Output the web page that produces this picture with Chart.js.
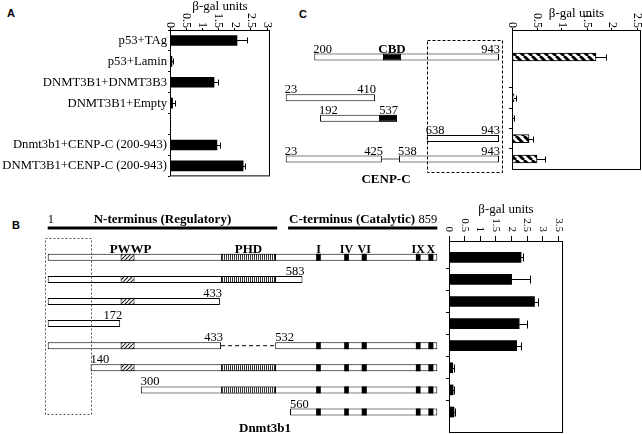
<!DOCTYPE html>
<html>
<head>
<meta charset="utf-8">
<script src="https://cdn.jsdelivr.net/npm/chart.js@4.4.1/dist/chart.umd.min.js"></script>
<style>
    body { margin: 0; background: #fff; }
    #page { position: relative; width: 642px; height: 434px; overflow: hidden; background: #fff; }
    #page canvas { position: absolute; }
    .panel { position: absolute; font: bold 11px 'Liberation Sans', Arial, sans-serif; color: #000; }
</style>
</head>
<body>
<div id="page">
    <div class="panel" style="left:7px;top:7px">A</div>
    <div class="panel" style="left:299px;top:8px">C</div>
    <div class="panel" style="left:12px;top:219px">B</div>
    <canvas id="chartA" width="280" height="185" style="left:0;top:0"></canvas>
    <canvas id="diagC" width="240" height="175" style="left:270px;top:20px"></canvas>
    <canvas id="chartC" width="142" height="171" style="left:500px;top:0"></canvas>
    <canvas id="diagB" width="445" height="229" style="left:0;top:205px"></canvas>
    <canvas id="chartB" width="135" height="234" style="left:440px;top:200px"></canvas>
</div>
<script>
// Panel A - two-hybrid controls
const aLabels = ['p53+TAg', 'p53+Lamin', 'DNMT3B1+DNMT3B3', 'DNMT3B1+Empty', '', 'Dnmt3b1+CENP-C (200-943)', 'DNMT3B1+CENP-C (200-943)'];
const aValues = [2.07, 0.06, 1.36, 0.08, null, 1.45, 2.26];
const aErrors = [0.31, 0.02, 0.12, 0.07, null, 0.10, 0.05];
const aTicks = [0, 0.5, 1, 1.5, 2, 2.5, 3];

// Panel C - CENP-C fragments, drawn positions (0 = residue 23, 100 = residue 943)
const cSegRow = [0, 2, 3, 4, 5, 5];
const cSegFrom = [13.4, 0, 16.1, 66.1, 0, 53.1];
const cSegTo = [100, 41.9, 52.2, 100, 45.1, 100];
const cFromText = ['200', '23', '192', '638', '23', '538'];
const cToText = ['943', '410', '537', '943', '425', '943'];
const cCbdRow = [0, 3];
const cCbdFrom = [45.6, 43.7];
const cCbdTo = [54.1, 52.2];
const cLink = [45.1, 53.1];
const cRows = [0, 2, 3, 4, 5];
const cValues = [1.68, 0.04, 0.02, 0.34, 0.50];
const cErrors = [0.20, 0.03, 0.01, 0.08, 0.16];
const cTicks = [0, 0.5, 1, 1.5, 2, 2.5];

// Panel B - Dnmt3b1 deletions, drawn positions (0 = residue 1, 100 = residue 859)
const bSegRow = [0, 1, 2, 3, 4, 4, 5, 6, 7];
const bSegFrom = [0, 0, 0, 0, 0, 58.4, 11.0, 23.9, 62.2];
const bSegTo = [100, 65.4, 44.2, 18.6, 44.5, 100, 100, 100, 100];
const bFromText = ['', '', '', '', '', '532', '140', '300', '560'];
const bToText = ['', '583', '433', '172', '433', '', '', '', ''];
const bGap = [44.5, 58.4];
const bPwwp = [18.7, 22.3];
const bPwwpRows = [0, 1, 2, 4, 5];
const bPhd = [44.5, 58.6];
const bPhdRows = [0, 1, 5, 6];
const bMotifNames = ['I', 'IV', 'VI', 'IX', 'X'];
const bMotifFrom = [68.9, 76.1, 80.6, 94.5, 97.7];
const bMotifTo = [70.1, 77.3, 81.9, 95.7, 99.0];
const bMotifRows = [0, 4, 5, 6, 7];
const bRegionFrom = [0, 61.7];
const bRegionTo = [58.9, 100];
const bRegionText = ['N-terminus (Regulatory)', 'C-terminus (Catalytic)'];
const bRows = [0, 1, 2, 3, 4, 5, 6, 7];
const bValues = [2.30, 2.00, 2.73, 2.24, 2.16, 0.12, 0.13, 0.16];
const bErrors = [0.05, 0.59, 0.10, 0.25, 0.13, 0.03, 0.02, 0.02];
const bTicks = [0, 0.5, 1, 1.5, 2, 2.5, 3, 3.5];

const SERIF = "'Liberation Serif', 'Times New Roman', serif";
Chart.defaults.font.family = SERIF;
Chart.defaults.color = '#000';
Chart.defaults.animation = false;
Chart.defaults.responsive = false;
Chart.defaults.devicePixelRatio = 1;
Chart.defaults.plugins.legend.display = false;
Chart.defaults.plugins.tooltip.enabled = false;

// fill patterns
function pattern(w, h, paint) {
    const c = document.createElement('canvas');
    c.width = w;
    c.height = h;
    const g = c.getContext('2d');
    g.fillStyle = '#fff';
    g.fillRect(0, 0, w, h);
    g.fillStyle = '#000';
    g.strokeStyle = '#000';
    paint(g);
    return g.createPattern(c, 'repeat');
}
const backHatch = pattern(8, 8, g => {
    g.lineWidth = 3;
    g.beginPath();
    [-8, 0, 8].forEach(k => { g.moveTo(k, 0); g.lineTo(k + 8, 8); });
    g.stroke();
});
const fwdHatch = pattern(4, 4, g => {
    g.lineWidth = 1.2;
    g.strokeStyle = '#222';
    g.beginPath();
    [-4, 0, 4].forEach(k => { g.moveTo(k, 4); g.lineTo(k + 4, 0); });
    g.stroke();
});
const vStripes = pattern(2, 1, g => {
    g.fillStyle = '#333';
    g.fillRect(0, 0, 1, 1);
});

// maps a pixel window onto row / drawing units
function span(px0, step, from, to) {
    return { min: (from - px0) / step, max: (to - px0) / step };
}

function label(ctx, str, x, y, align, bold, size) {
    if (!str) return;
    ctx.font = (bold ? 'bold ' : '') + size + 'px ' + SERIF;
    ctx.textAlign = align;
    ctx.textBaseline = 'alphabetic';
    ctx.fillText(str, x, y);
}

// bar chart with rotated top ticks, box and one-sided error bars
function valueChart(id, o) {
    const linearRows = !o.labels;
    const data = linearRows ? o.values.map((v, i) => ({ x: v, y: o.rows[i] })) : o.values;
    const yScale = linearRows ? {
        type: 'linear', reverse: true, offset: false, min: o.range.min, max: o.range.max,
        ticks: { display: false },
        afterBuildTicks: s => { s.ticks = o.rowTicks.map(v => ({ value: v })); },
        grid: { drawOnChartArea: false, tickLength: 3, color: '#000', offset: false },
        border: { display: false },
        afterFit: s => { s.width = o.left; }
    } : {
        ticks: { padding: 1, autoSkip: false, font: { size: 12.7 } },
        grid: { drawOnChartArea: false, tickLength: 2, color: '#000' },
        border: { display: false },
        afterFit: s => { s.width = o.left; }
    };
    return new Chart(document.getElementById(id), {
        type: 'bar',
        data: {
            labels: o.labels,
            datasets: [{
                data,
                backgroundColor: o.fill,
                borderColor: '#000',
                borderWidth: o.border,
                borderSkipped: false,
                barThickness: o.thickness
            }]
        },
        options: {
            indexAxis: 'y',
            layout: { padding: { right: o.right, bottom: 1 } },
            scales: {
                x: {
                    position: 'top', min: 0, max: o.max,
                    ticks: { display: false, stepSize: 0.5 },
                    afterBuildTicks: s => { s.ticks = o.ticks.map(v => ({ value: v })); },
                    grid: { drawOnChartArea: false, tickLength: o.tickLen, color: '#000' },
                    border: { display: false },
                    afterFit: s => { s.height = o.top; }
                },
                y: yScale
            }
        },
        plugins: [{
            id: 'valueDecor',
            afterDraw(chart) {
                const { ctx, chartArea: a, scales: { x } } = chart;
                const meta = chart.getDatasetMeta(0);
                ctx.save();
                ctx.strokeStyle = '#000';
                ctx.fillStyle = '#000';
                ctx.lineWidth = 1;
                meta.data.forEach((bar, i) => {
                    const err = o.errors[i];
                    const v = o.values[i];
                    if (!err || v == null) return;
                    const x0 = x.getPixelForValue(v);
                    const x1 = Math.round(x.getPixelForValue(v + err)) + 0.5;
                    const yy = Math.round(bar.y) + 0.5;
                    ctx.beginPath();
                    ctx.moveTo(x0, yy);
                    ctx.lineTo(x1, yy);
                    ctx.moveTo(x1, yy - o.cap);
                    ctx.lineTo(x1, yy + o.cap);
                    ctx.stroke();
                });
                ctx.strokeRect(a.left + 0.5, a.top + 0.5, a.right - a.left - 1, a.bottom - a.top - 1);
                ctx.font = o.tickFont + 'px ' + SERIF;
                ctx.textAlign = 'right';
                ctx.textBaseline = 'middle';
                o.ticks.forEach(t => {
                    ctx.save();
                    ctx.translate(x.getPixelForValue(t), a.top - o.labelGap);
                    ctx.rotate(Math.PI / 2);
                    ctx.fillText(String(t), 0, 0);
                    ctx.restore();
                });
                ctx.font = '13px ' + SERIF;
                ctx.textAlign = 'center';
                ctx.fillText('β-gal units', (a.left + a.right) / 2, o.titleY);
                ctx.restore();
            }
        }]
    });
}

// schematic drawn with floating bars
function diagramChart(id, o) {
    return new Chart(document.getElementById(id), {
        type: 'bar',
        data: { datasets: o.datasets },
        options: {
            indexAxis: 'y',
            layout: { padding: 0 },
            datasets: { bar: { grouped: false, borderSkipped: false, inflateAmount: 0, barThickness: o.thickness } },
            scales: {
                x: { type: 'linear', display: false, offset: false, min: o.x.min, max: o.x.max },
                y: { type: 'linear', display: false, offset: false, reverse: true, min: o.y.min, max: o.y.max }
            }
        },
        plugins: [{ id: 'diagramLabels', afterDraw: o.draw }]
    });
}

const rowBars = (rows, from, to) => rows.map((r, i) => ({ x: [from[i], to[i]], y: r }));
const sameBars = (rows, range) => rows.map(r => ({ x: [range[0], range[1]], y: r }));

// ---- Panel A
valueChart('chartA', {
    labels: aLabels, values: aValues, errors: aErrors, ticks: aTicks, max: 3.09,
    fill: '#000', border: 0, thickness: 10, cap: 3,
    left: 170, top: 30, right: 10, tickLen: 2, labelGap: 2, tickFont: 12, titleY: 7
});

// ---- Panel C
const C_BAR = 7;
diagramChart('diagC', {
    thickness: C_BAR,
    x: span(15.7, 2.133, 0, 240),
    y: span(37, 20.4, 0, 175),
    datasets: [
        { data: rowBars(cCbdRow, cCbdFrom, cCbdTo), backgroundColor: '#000', borderColor: '#000', borderWidth: 1, order: 1 },
        { data: rowBars(cSegRow, cSegFrom, cSegTo), backgroundColor: '#fff', borderColor: '#000', borderWidth: 1, order: 2 },
        { type: 'line', data: [{ x: cLink[0], y: 5 }, { x: cLink[1], y: 5 }], borderColor: '#555', borderWidth: 1, pointRadius: 0, order: 0 }
    ],
    draw(chart) {
        const { ctx, scales: { x, y } } = chart;
        const base = r => y.getPixelForValue(r) - C_BAR / 2 - 1;
        ctx.save();
        ctx.fillStyle = '#000';
        cSegRow.forEach((r, i) => {
            label(ctx, cFromText[i], x.getPixelForValue(cSegFrom[i]) - 1, base(r), 'left', false, 12.5);
            label(ctx, cToText[i], x.getPixelForValue(cSegTo[i]) + 1, base(r), 'right', false, 12.5);
        });
        label(ctx, 'CBD', x.getPixelForValue((cCbdFrom[0] + cCbdTo[0]) / 2), base(cCbdRow[0]), 'center', true, 13);
        label(ctx, 'CENP-C', 116, 163, 'center', true, 13);
        // dashed region 638-943
        const bx0 = Math.round(x.getPixelForValue(66.1)) + 0.5;
        const bx1 = Math.round(x.getPixelForValue(101.4)) + 0.5;
        const by0 = Math.round(y.getPixelForValue(-0.83)) + 0.5;
        const by1 = Math.round(y.getPixelForValue(5.64)) + 0.5;
        ctx.setLineDash([3, 2]);
        ctx.strokeStyle = '#000';
        ctx.lineWidth = 1;
        ctx.strokeRect(bx0, by0, bx1 - bx0, by1 - by0);
        ctx.restore();
    }
});

valueChart('chartC', {
    rows: cRows, values: cValues, errors: cErrors, ticks: cTicks, max: 2.58,
    range: span(57, 20.4, 30, 170), rowTicks: [1.5, 2.5, 3.5, 4.5],
    fill: backHatch, border: 1, thickness: 8, cap: 3,
    left: 12, top: 30, right: 1, tickLen: 2, labelGap: 2, tickFont: 12, titleY: 14
});

// ---- Panel B
const B_BAR = 7;
const motifBars = [];
bMotifRows.forEach(r => bMotifFrom.forEach((f, i) => motifBars.push({ x: [f, bMotifTo[i]], y: r })));
const regionRow = -1.33;

diagramChart('diagB', {
    thickness: B_BAR,
    x: span(47.7, 3.896, 0, 445),
    y: span(52.3, 22.1, 0, 229),
    datasets: [
        { data: motifBars, backgroundColor: '#000', borderWidth: 0, order: 1 },
        { data: sameBars(bPwwpRows, bPwwp), backgroundColor: fwdHatch, borderColor: '#000', borderWidth: 1, order: 1 },
        { data: sameBars(bPhdRows, bPhd), backgroundColor: vStripes, borderColor: '#000', borderWidth: 1, order: 1 },
        { data: rowBars(bSegRow, bSegFrom, bSegTo), backgroundColor: '#fff', borderColor: '#000', borderWidth: 1, order: 2 },
        { data: rowBars([regionRow, regionRow], bRegionFrom, bRegionTo), backgroundColor: '#000', borderWidth: 0, barThickness: 3, order: 2 },
        { type: 'line', data: [{ x: bGap[0], y: 4 }, { x: bGap[1], y: 4 }], borderColor: '#000', borderWidth: 1, borderDash: [4, 3], pointRadius: 0, order: 0 }
    ],
    draw(chart) {
        const { ctx, scales: { x, y } } = chart;
        const base = r => y.getPixelForValue(r) - B_BAR / 2 - 1;
        const mid = (a, b) => x.getPixelForValue((a + b) / 2);
        ctx.save();
        ctx.fillStyle = '#000';
        bSegRow.forEach((r, i) => {
            label(ctx, bFromText[i], x.getPixelForValue(bSegFrom[i]), base(r), 'left', false, 12.5);
            label(ctx, bToText[i], x.getPixelForValue(bSegTo[i]) + 2, base(r), 'right', false, 12.5);
        });
        label(ctx, 'PWWP', mid(bPwwp[0], bPwwp[1]) + 3, base(0), 'center', true, 13);
        label(ctx, 'PHD', mid(bPhd[0], bPhd[1]), base(0), 'center', true, 13);
        bMotifNames.forEach((n, i) => label(ctx, n, mid(bMotifFrom[i], bMotifTo[i]), base(0), 'center', true, 12));
        const ry = y.getPixelForValue(regionRow) - 5;
        label(ctx, '1', x.getPixelForValue(0), ry, 'left', false, 12.5);
        label(ctx, bRegionText[0], mid(bRegionFrom[0], bRegionTo[0]), ry, 'center', true, 13);
        label(ctx, bRegionText[1], x.getPixelForValue(bRegionFrom[1]) + 1, ry, 'left', true, 13);
        label(ctx, '859', x.getPixelForValue(100), ry, 'right', false, 12.5);
        label(ctx, 'Dnmt3b1', 265, 227, 'center', true, 13);
        // dashed region removed in 140-859
        const bx0 = Math.round(x.getPixelForValue(-0.7)) + 0.5;
        const bx1 = Math.round(x.getPixelForValue(11.0)) + 0.5;
        const by0 = Math.round(y.getPixelForValue(-0.87)) + 0.5;
        const by1 = Math.round(y.getPixelForValue(7.09)) + 0.5;
        ctx.setLineDash([2, 2]);
        ctx.strokeStyle = '#555';
        ctx.lineWidth = 1;
        ctx.strokeRect(bx0, by0, bx1 - bx0, by1 - by0);
        ctx.restore();
    }
});

valueChart('chartB', {
    rows: bRows, values: bValues, errors: bErrors, ticks: bTicks, max: 3.64,
    range: span(57.3, 22.1, 41, 233), rowTicks: [0.5, 1.5, 2.5, 3.5, 4.5, 5.5, 6.5],
    fill: '#000', border: 0, thickness: 10, cap: 4,
    left: 9, top: 41, right: 12, tickLen: 5, labelGap: 9, tickFont: 11, titleY: 10
});
</script>
</body>
</html>
